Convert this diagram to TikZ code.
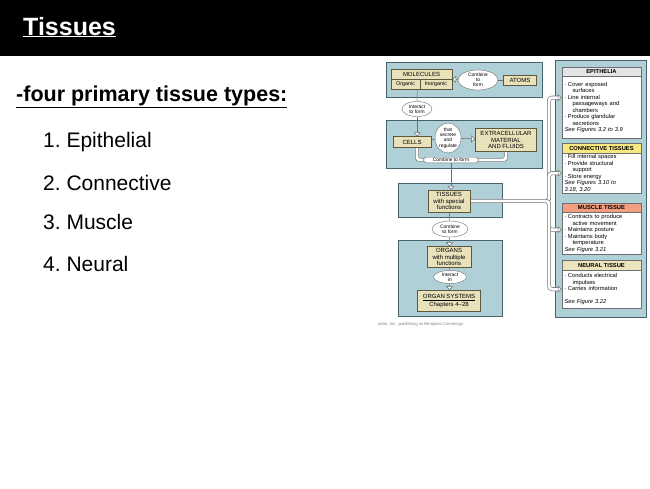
\documentclass[tikz,border=0pt]{standalone}
\usepackage{fontspec}
\setmainfont{Liberation Sans}
\frenchspacing
\usetikzlibrary{positioning, shapes.geometric, arrows.meta}
\definecolor{panelblue}{RGB}{176,208,216}
\definecolor{paneledge}{RGB}{72,98,108}
\definecolor{parttan}{RGB}{232,225,186}
\definecolor{partedge}{RGB}{95,88,62}
\definecolor{pipegray}{RGB}{110,110,110}
\definecolor{hdgrey}{RGB}{228,228,228}
\definecolor{hdyellow}{RGB}{247,233,128}
\definecolor{hdsalmon}{RGB}{243,158,128}
\definecolor{hdtan}{RGB}{236,228,188}
\newcommand\partfont{\fontsize{6}{6.2}\selectfont}
\newcommand\bubblefont{\fontsize{4.9}{5.2}\selectfont}
\newcommand\infofont{\fontsize{5.8}{6.5}\selectfont}
\newcommand\dotitem{\textperiodcentered\hspace{1.5pt}}
\newcommand\indline{\hspace*{8pt}}
\pgfdeclarelayer{back}
\pgfdeclarelayer{mid}
\pgfsetlayers{back,mid,main}
\tikzset{
  panel/.style={draw=paneledge, fill=panelblue, line width=0.6pt}, % blue boards behind the boxes
  part/.style={draw=partedge, fill=parttan, line width=0.4pt, inner sep=0.5pt, align=center, font=\partfont}, % tan boxes
  bubble/.style={ellipse, draw=pipegray, fill=white, line width=0.4pt, inner sep=0pt, align=center, font=\bubblefont}, % white ovals
  pipe/.style={draw=pipegray, line width=0.55pt, double=white, double distance=2.8pt}, % hollow connectors
  flow/.style={-{Triangle[length=4pt, width=7pt, fill=white]}}, % head of a hollow connector
  infohead/.style={draw=pipegray, line width=0.4pt, minimum width=79pt, minimum height=9.5pt, inner sep=0pt, font=\fontsize{5.8}{6}\selectfont\bfseries}, % coloured title strip
  infobody/.style={draw=pipegray, fill=white, line width=0.4pt, text width=74pt, inner xsep=2.5pt, inner ysep=1pt, align=left, font=\infofont}, % white text box
  slide/.style={inner sep=0pt, anchor=base west}, % slide text
}

\begin{document}
\begin{tikzpicture}[x=1pt, y=-1pt]
  \useasboundingbox (0,0) rectangle (650,488);

  % slide
  \fill[black] (0,0) rectangle (650,56);
  \node[slide, text=white, font=\fontsize{25}{30}\selectfont\bfseries] (title) at (23,35) {\underline{Tissues}};
  \node[slide, font=\fontsize{21.5}{26}\selectfont\bfseries] (types) at (16,101.5) {\underline{-four primary tissue types:}};
  \node[slide, font=\fontsize{21}{25}\selectfont] (t1) at (43,147.5) {1. Epithelial};
  \node[slide, font=\fontsize{21}{25}\selectfont] (t2) at (43,190.5) {2. Connective};
  \node[slide, font=\fontsize{21}{25}\selectfont] (t3) at (43,229) {3. Muscle};
  \node[slide, font=\fontsize{21}{25}\selectfont] (t4) at (43,271.5) {4. Neural};

  % boards
  \begin{pgfonlayer}{back}
    \draw[panel] (386,62) rectangle (542,97);
    \draw[panel] (386,120) rectangle (542,168);
    \draw[panel] (398,183) rectangle (502,217);
    \draw[panel] (398,240) rectangle (502,316);
    \draw[panel] (555,60) rectangle (646,317);
  \end{pgfonlayer}

  % levels of organization
  \node[part, minimum width=61pt, minimum height=10pt] (mol) at (421.5,74) {MOLECULES};
  \node[part, anchor=north west, minimum width=29pt, minimum height=10pt, font=\fontsize{5.4}{6}\selectfont] (organic) at (mol.south west) {Organic};
  \node[part, anchor=north east, minimum width=32pt, minimum height=10pt, font=\fontsize{5.4}{6}\selectfont] (inorganic) at (mol.south east) {Inorganic};
  \node[bubble, minimum width=40pt, minimum height=20pt] (cmbA) at (478,80) {Combine\\to\\form};
  \node[part, minimum width=33pt, minimum height=10pt] (atoms) at (520,80) {ATOMS};
  \node[bubble, minimum width=30pt, minimum height=15pt] (intA) at (417,109) {Interact\\to form};
  \node[part, minimum width=38pt, minimum height=11pt] (cells) at (412,142) {CELLS};
  \node[bubble, minimum width=26pt, minimum height=30pt] (secrete) at (448,138) {that\\secrete\\and\\regulate};
  \node[part, minimum width=61pt, minimum height=23pt] (extra) at (506,140) {EXTRACELLULAR\\MATERIAL\\AND FLUIDS};
  \node[draw=pipegray, fill=white, rounded corners=3pt, line width=0.4pt, font=\bubblefont, inner sep=1pt, minimum width=55pt] (cmbB) at (451,160) {Combine to form};
  \node[part, minimum width=42pt, minimum height=22pt] (tissues) at (449,201) {TISSUES\\with special\\functions};
  \node[bubble, minimum width=36pt, minimum height=16pt] (cmbC) at (450,229) {Combine\\to form};
  \node[part, minimum width=44pt, minimum height=21pt] (organs) at (449,257) {ORGANS\\with multiple\\functions};
  \node[bubble, minimum width=33pt, minimum height=13pt] (intB) at (450,277) {Interact\\in};
  \node[part, minimum width=63pt, minimum height=21pt] (systems) at (449,301) {\underline{ORGAN SYSTEMS}\\[1pt]Chapters 4--28};
  \node[anchor=west, inner sep=0pt, text=gray, font=\fontsize{4.2}{5}\selectfont] (credit) at (378,324) {ation, Inc., publishing as Benjamin Cummings.};

  % tissue types
  \node[infohead, fill=hdgrey] (epiH) at (601.5,71.5) {EPITHELIA};
  \node[infobody, below=0pt of epiH, minimum height=62pt] (epiB) {\dotitem Cover exposed\\
    \indline surfaces\\
    \dotitem Line internal\\
    \indline passageways and\\
    \indline chambers\\
    \dotitem Produce glandular\\
    \indline secretions\\
    \textit{See Figures 3.2 to 3.9}};
  \node[infohead, fill=hdyellow] (conH) at (601.5,148) {CONNECTIVE TISSUES};
  \node[infobody, below=0pt of conH, minimum height=40pt] (conB) {\dotitem Fill internal spaces\\
    \dotitem Provide structural\\
    \indline support\\
    \dotitem Store energy\\
    \textit{See Figures 3.10 to}\\
    \textit{3.18, 3.20}};
  \node[infohead, fill=hdsalmon] (musH) at (601.5,207.5) {MUSCLE TISSUE};
  \node[infobody, below=0pt of musH, minimum height=42pt] (musB) {\dotitem Contracts to produce\\
    \indline active movement\\
    \dotitem Maintains posture\\
    \dotitem Maintains body\\
    \indline temperature\\
    \textit{See Figure 3.21}};
  \node[infohead, fill=hdtan] (neuH) at (601.5,265) {NEURAL TISSUE};
  \node[infobody, below=0pt of neuH, minimum height=38pt] (neuB) {\dotitem Conducts electrical\\
    \indline impulses\\
    \dotitem Carries information\\[6.5pt]
    \textit{See Figure 3.22}};
  \coordinate (bus) at (549,201);

  % connectors
  \begin{pgfonlayer}{mid}
    \draw[pipe] (atoms) edge (cmbA)
          (cmbA) edge[flow] (inorganic.north east)
          ([xshift=-3pt]organic.south east) edge (intA)
          (intA) edge[flow] (intA |- cells.north)
          (cells) edge (secrete)
          (secrete) edge[flow] (extra)
          (cmbB) edge[flow] (tissues.north -| cmbB)
          (tissues) edge (cmbC)
          (cmbC) edge[flow] (organs)
          (organs) edge (intB)
          (intB) edge[flow] (systems);
    \draw[pipe, rounded corners=3pt] ([xshift=5pt]cells.south) |- (cmbB.center) -| (extra.south);
    \draw[pipe, flow, rounded corners=3pt] (tissues.east) -- (bus) |- ([yshift=10pt]epiB.west);
    \draw[pipe, flow, rounded corners=3pt] (tissues.east) -- (bus) |- (conB.west);
    \draw[pipe, flow, rounded corners=3pt] (tissues.east) -- (bus) |- ([yshift=4pt]musB.west);
    \draw[pipe, flow, rounded corners=3pt] (tissues.east) -- (bus) |- (neuB.west);
  \end{pgfonlayer}
\end{tikzpicture}
\end{document}
